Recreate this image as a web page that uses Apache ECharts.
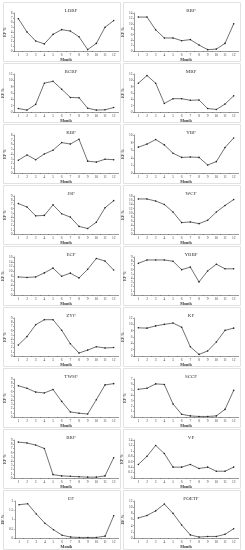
<!DOCTYPE html>
<html><head><meta charset="utf-8">
<script src="https://cdn.jsdelivr.net/npm/echarts@6/dist/echarts.min.js"></script>
<style>html,body{margin:0;padding:0;background:#fff}#c{width:245px;height:550px}</style>
</head><body><div id="c"></div>
<script>
var months = ['1','2','3','4','5','6','7','8','9','10','11','12'];
var titles = ['LDBF','BBF','BCBF','MBF','KBF','YBF','JSF','WCF','ECF','YBBF','ZYF','KF','TWSF','SCCF','BRF','VP','EF','POETF'];
var LDBF = [6.8,4.0,2.1,1.5,3.5,4.5,4.2,3.0,0.3,1.6,5.0,6.4];
var BBF  = [12.5,12.5,7.8,4.8,4.8,3.8,4.2,2.2,0.5,0.7,2.8,10.0];
var BCBF = [1.1,0.6,2.4,9.1,9.7,7.2,4.6,4.5,1.2,0.6,0.7,1.4];
var MBF  = [9.1,11.5,9.1,2.7,4.2,4.2,3.7,3.8,1.1,0.8,2.5,5.1];
var KBF  = [2.7,3.8,2.8,4.0,4.8,6.4,6.1,7.1,2.5,2.3,2.9,2.8];
var YBF  = [6.8,7.6,8.8,7.4,5.2,4.1,4.2,4.1,2.1,3.0,6.7,9.2];
var JSF  = [7.2,6.4,4.3,4.4,6.9,4.8,4.0,1.8,1.3,2.8,6.2,7.9];
var WCF  = [16.6,16.6,15.6,14.0,10.4,5.4,5.7,4.9,6.5,10.4,13.5,16.3];
var ECF  = [7.6,7.4,7.6,9.3,11.3,7.9,9.2,7.2,10.8,15.4,14.3,10.5];
var YBBF = [7.5,8.3,8.3,8.3,8.0,6.0,6.6,3.1,5.7,7.3,6.2,6.2];
var ZYF  = [2.6,4.6,7.4,8.6,8.6,6.1,2.9,0.7,1.4,2.2,1.9,2.0];
var KF   = [8.9,8.8,9.5,10.0,10.4,9.1,2.9,0.5,1.6,4.4,8.1,8.8];
var TWSF = [7.4,6.8,5.9,5.7,6.5,3.7,1.2,0.9,0.7,4.1,7.6,7.9];
var SCCF = [5.1,5.3,6.1,6.0,2.4,0.5,0.2,0.1,0.1,0.2,1.4,4.9];
var BRF  = [8.5,8.3,7.8,7.0,0.8,0.5,0.4,0.3,0.2,0.2,0.5,4.8];
var VP   = [0.5,0.8,1.2,0.9,0.4,0.4,0.5,0.35,0.4,0.25,0.25,0.4];
var EF   = [1.8,1.85,1.3,0.8,0.45,0.15,0.05,0.03,0.03,0.03,0.1,1.2];
var POETF= [6.5,7.3,8.8,11.0,8.0,4.2,1.0,0.3,0.5,0.5,1.2,3.0];
var yMax = [8,14,12,12,8,10,9,18,16,9,9,12,9,7,9,1.4,2,12];
var yStep= [1,2,2,2,1,2,1,2,2,1,1,2,1,1,1,0.2,0.5,2];
var seriesData = [LDBF,BBF,BCBF,MBF,KBF,YBF,JSF,WCF,ECF,YBBF,ZYF,KF,TWSF,SCCF,BRF,VP,EF,POETF];

var FONT = 'Liberation Serif';
var rowH = 61;
var grids=[], xAxes=[], yAxes=[], series=[], tit=[], graphics=[];
for (var i=0;i<18;i++){
  var col = i%2, row = Math.floor(i/2);
  var left = col===0 ? 14 : 134;
  var top0 = row*rowH;
  grids.push({left:left, top:top0+13, width:104, height:38});
  graphics.push({type:'rect', shape:{x:(col===0?3:123)+0.5, y:top0+2.5, width:117, height:59},
    style:{fill:'none', stroke:'#e2e2e2', lineWidth:1}, silent:true});
  tit.push({text:titles[i], left:left+52, top:top0+3, textAlign:'center',
    textStyle:{fontFamily:FONT, fontSize:5, fontWeight:'normal', color:'#333'}});
  xAxes.push({type:'category', gridIndex:i, data:months, boundaryGap:true,
    name:'Month', nameLocation:'middle', nameGap:7,
    nameTextStyle:{fontFamily:FONT, fontSize:4, fontWeight:'bold', color:'#333'},
    axisLine:{lineStyle:{color:'#555', width:0.6}},
    axisTick:{show:true, length:1, lineStyle:{color:'#555', width:0.5}},
    axisLabel:{fontFamily:FONT, fontSize:3.5, color:'#444', margin:2, interval:0}});
  yAxes.push({type:'value', gridIndex:i, min:0, max:yMax[i], interval:yStep[i],
    name:'EF %', nameLocation:'middle', nameGap:7, nameRotate:90,
    nameTextStyle:{fontFamily:FONT, fontSize:4, fontWeight:'bold', color:'#333'},
    axisLine:{show:true, lineStyle:{color:'#555', width:0.6}},
    axisTick:{show:true, length:1, lineStyle:{color:'#555', width:0.5}},
    splitLine:{show:false},
    axisLabel:{fontFamily:FONT, fontSize:3.5, color:'#444', margin:1.5}});
  series.push({type:'line', xAxisIndex:i, yAxisIndex:i, data:seriesData[i],
    symbol:'circle', symbolSize:1.6, itemStyle:{color:'#222'},
    lineStyle:{color:'#333', width:0.7}, animation:false});
}
var chart = echarts.init(document.getElementById('c'), null, {renderer:'canvas'});
chart.setOption({animation:false, title:tit, grid:grids, xAxis:xAxes, yAxis:yAxes, series:series, graphic:graphics});
</script></body></html>
